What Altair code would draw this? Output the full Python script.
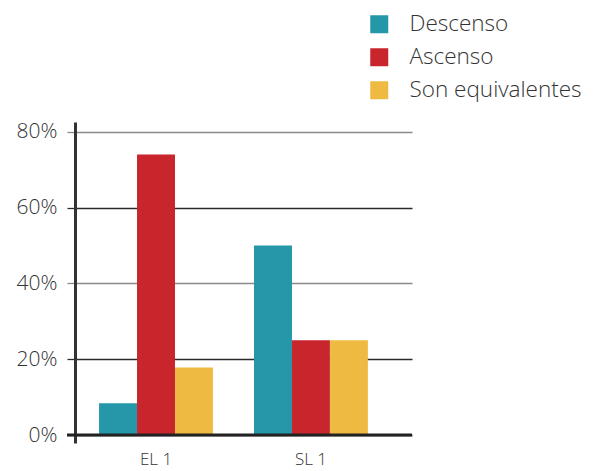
import altair as alt
import pandas as pd

grupos = ["EL 1", "SL 1"]
series = ["Descenso", "Ascenso", "Son equivalentes"]
valores = {
    "Descenso": [8.4, 50.0],
    "Ascenso": [74.0, 25.0],
    "Son equivalentes": [17.8, 25.0],
}
colores = ["#2497a9", "#c8252c", "#efba41"]
ticks_y = [0, 20, 40, 60, 80]

rows = []
for s in series:
    for g, v in zip(grupos, valores[s]):
        rows.append({"grupo": g, "serie": s, "valor": v})
df = pd.DataFrame(rows)

FONT = "Open Sans"
W, H = 337, 321

bars = alt.Chart(df).mark_bar().encode(
    x=alt.X("grupo:N", sort=grupos, title=None,
            scale=alt.Scale(paddingInner=0.265, paddingOuter=0.22, align=0.353),
            axis=alt.Axis(domain=False, ticks=False, labelAngle=0, labelFont=FONT,
                          labelFontSize=17, labelColor="#333", labelPadding=8,
                          labelFontWeight=300)),
    xOffset=alt.XOffset("serie:N", sort=series,
                        scale=alt.Scale(paddingInner=0, paddingOuter=0)),
    y=alt.Y("valor:Q", title=None,
            scale=alt.Scale(domain=[-2.1, 82.6], nice=False, zero=False),
            axis=alt.Axis(values=ticks_y, labelExpr="datum.value + '%'",
                          domain=True, domainColor="#333", domainWidth=3,
                          tickSize=8, tickWidth=1.3,
                          tickColor={"condition": {"test": "datum.value == 40 || datum.value == 80", "value": "#8a8a8a"}, "value": "#2a2a2a"},
                          grid=True, gridWidth=1.3,
                          gridColor={"condition": {"test": "datum.value == 40 || datum.value == 80", "value": "#8a8a8a"}, "value": "#2a2a2a"},
                          labelFont=FONT, labelFontSize=21, labelColor="#333",
                          labelPadding=10, labelFontWeight=300)),
    y2=alt.datum(0),
    color=alt.Color("serie:N", sort=series,
                    scale=alt.Scale(domain=series, range=colores),
                    legend=alt.Legend(title=None, orient="none", legendX=293, legendY=-109,
                                      symbolType="square", symbolSize=324,
                                      symbolStrokeWidth=0, symbolOpacity=1,
                                      labelFont=FONT, labelFontSize=22.5,
                                      labelFontWeight=300, labelColor="#333",
                                      labelLimit=300,
                                      labelOffset=19, rowPadding=10, padding=0)),
)

zero_df = pd.DataFrame({"v": [0]})
zero = alt.Chart(zero_df).mark_rule(color="#222", strokeWidth=3).encode(
    y=alt.Y("v:Q"),
    x=alt.value(-8),
    x2=alt.value(W),
)

chart = alt.layer(bars, zero).properties(
    width=W, height=H,
    padding={"left": 67, "top": 114, "right": 170, "bottom": 26},
    autosize=alt.AutoSizeParams(type="none"),
).configure_view(stroke=None)

chart.save("out.html", embed_options={"renderer": "svg", "actions": False})
